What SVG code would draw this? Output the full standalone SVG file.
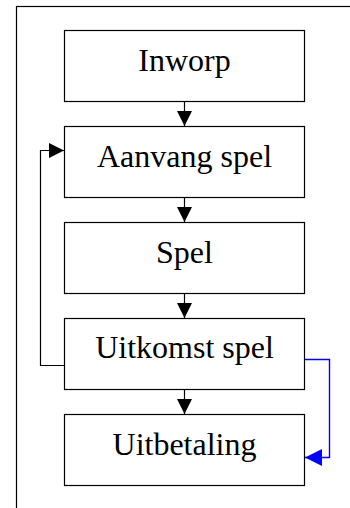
<svg xmlns="http://www.w3.org/2000/svg" width="350" height="508" viewBox="0 0 350 508">
<style>
.box{fill:#fff;stroke:#000;stroke-width:1.2}
.lbl{font-family:"Liberation Serif","Times New Roman",serif;font-size:32px;text-anchor:middle;fill:#000}
.c{fill:none;stroke:#000;stroke-width:1.2}
.cb{fill:none;stroke:#0000ff;stroke-width:1.4}
</style>
<defs>
<marker id="ah" markerWidth="15" markerHeight="15" viewBox="0 0 15 15" refX="15" refY="7.5" orient="auto" markerUnits="userSpaceOnUse"><path d="M0,0 L15,7.5 L0,15 Z" fill="#000"/></marker>
<marker id="ahb" markerWidth="17" markerHeight="17" viewBox="0 0 17 17" refX="17" refY="8.5" orient="auto" markerUnits="userSpaceOnUse"><path d="M0,0 L17,8.5 L0,17 Z" fill="#0000ff"/></marker>
</defs>
<rect x="16.5" y="6.5" width="400" height="600" fill="#fff" stroke="#000" stroke-width="1.2"/>
<g id="connectors">
<line class="c" x1="184.5" y1="101" x2="184.5" y2="126" marker-end="url(#ah)"/>
<line class="c" x1="184.5" y1="197" x2="184.5" y2="222" marker-end="url(#ah)"/>
<line class="c" x1="184.5" y1="293" x2="184.5" y2="318" marker-end="url(#ah)"/>
<line class="c" x1="184.5" y1="389" x2="184.5" y2="414" marker-end="url(#ah)"/>
<polyline class="c" points="64.5,365.5 40.5,365.5 40.5,150.5 64,150.5" marker-end="url(#ah)"/>
<polyline class="cb" points="304.5,359.5 329.5,359.5 329.5,457.5 305,457.5" marker-end="url(#ahb)"/>
</g>
<g id="inworp"><rect class="box" x="64.5" y="30.5" width="240" height="71"/><text class="lbl" x="184.5" y="71">Inworp</text></g>
<g id="aanvang"><rect class="box" x="64.5" y="126.5" width="240" height="71"/><text class="lbl" x="184.5" y="167">Aanvang spel</text></g>
<g id="spel"><rect class="box" x="64.5" y="222.5" width="240" height="71"/><text class="lbl" x="184.5" y="263">Spel</text></g>
<g id="uitkomst"><rect class="box" x="64.5" y="318.5" width="240" height="71"/><text class="lbl" x="184.5" y="358">Uitkomst spel</text></g>
<g id="uitbetaling"><rect class="box" x="64.5" y="414.5" width="240" height="71"/><text class="lbl" x="184.5" y="455">Uitbetaling</text></g>
</svg>
